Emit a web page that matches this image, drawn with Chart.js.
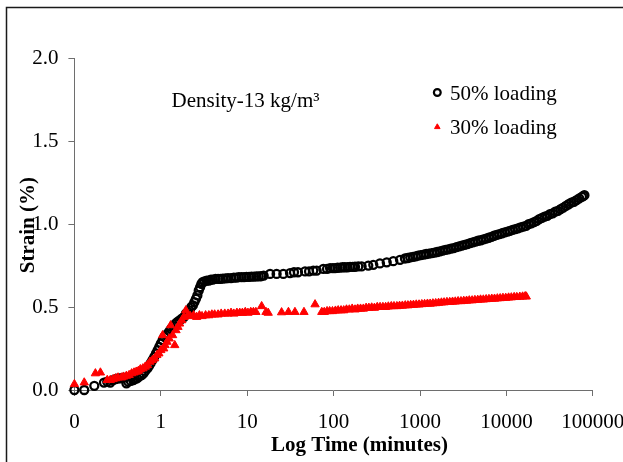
<!DOCTYPE html>
<html>
<head>
<meta charset="utf-8">
<script src="https://cdn.jsdelivr.net/npm/chart.js@4.4.1/dist/chart.umd.min.js"></script>
<style>
html,body{margin:0;padding:0;background:#fff;overflow:hidden;}
canvas{display:block;}
</style>
</head>
<body>
<canvas id="c" width="623" height="462"></canvas>
<script>
// ---- Data ----
const seriesNames = ['50% loading', '30% loading'];

// 50% loading (black open circles)
const timeA = [
  0.10, 0.13, 0.17, 0.22, 0.24, 0.26, 0.28, 0.30, 0.32, 0.34, 0.37, 0.40, 0.42, 0.45, 0.48, 0.50,
  0.53, 0.56, 0.60, 0.63, 0.66, 0.70, 0.73, 0.76, 0.80, 0.84, 0.88, 0.92, 0.96, 1.00, 1.05, 1.10,
  1.15, 1.20, 1.26, 1.32, 1.40, 1.48, 1.56, 1.65, 1.75, 1.85, 1.95, 2.05, 2.15, 2.25, 2.35, 2.45,
  2.55, 2.65, 2.75, 2.85, 2.95, 3.05, 3.2, 3.4, 3.6, 3.8, 4.0, 4.3, 4.6, 4.9, 5.2, 5.6, 6.0, 6.5,
  7.0, 7.5, 8.0, 8.6, 9.2, 9.8, 10.5, 11.2, 12.0, 12.8, 13.6, 14.5, 15.5,
  18.4, 21.9, 26.2, 31.3, 34.8, 38.7, 46.7, 52, 58.2, 63.7, 76, 84, 91, 98, 104, 111, 119, 127,
  135, 145, 155, 166, 177, 193, 211, 252, 288, 344, 412, 491, 587,
  670, 720, 770, 830, 890, 950, 1020, 1100, 1180, 1270, 1370, 1470, 1580, 1700, 1830, 1970, 2120,
  2280, 2450, 2640, 2840, 3050, 3280, 3530, 3800, 4080, 4380, 4700, 5050, 5420, 5820, 6250, 6710,
  7200, 7730, 8300, 8910, 9570, 10300, 11000, 11800, 12700, 13600, 14600, 15700, 16900, 18100,
  19400, 20900, 22400, 24000, 25800, 27700, 29700, 31900, 34300, 36800, 39500, 42400, 45500,
  48900, 52500, 56300, 60500, 64900, 69700, 74800, 78000, 80000
];
const strainA = [
  0.00, 0.00, 0.025, 0.045, 0.05, 0.045, 0.06, 0.065, 0.07, 0.07, 0.075, 0.04, 0.05, 0.055, 0.06, 0.065,
  0.07, 0.08, 0.09, 0.10, 0.115, 0.13, 0.145, 0.16, 0.18, 0.20, 0.22, 0.24, 0.26, 0.28, 0.30, 0.32,
  0.33, 0.34, 0.355, 0.37, 0.385, 0.40, 0.41, 0.42, 0.43, 0.44, 0.46, 0.47, 0.48, 0.50, 0.51, 0.53,
  0.55, 0.57, 0.60, 0.62, 0.64, 0.65, 0.655, 0.66, 0.66, 0.665, 0.665, 0.67, 0.67, 0.67, 0.672, 0.673,
  0.675, 0.675, 0.677, 0.678, 0.68, 0.68, 0.68, 0.682, 0.682, 0.683, 0.684, 0.685, 0.685, 0.686, 0.69,
  0.70, 0.70, 0.70, 0.705, 0.71, 0.71, 0.715, 0.715, 0.72, 0.72, 0.73, 0.73, 0.735, 0.735, 0.735, 0.737, 0.738, 0.74,
  0.74, 0.74, 0.742, 0.742, 0.743, 0.745, 0.745, 0.75, 0.755, 0.763, 0.77, 0.777, 0.785,
  0.793, 0.796, 0.80, 0.803, 0.806, 0.81, 0.813, 0.816, 0.82, 0.822, 0.825, 0.828, 0.832, 0.836, 0.84, 0.845, 0.848,
  0.852, 0.856, 0.862, 0.866, 0.87, 0.875, 0.88, 0.885, 0.89, 0.895, 0.90, 0.903, 0.908, 0.913, 0.918, 0.923,
  0.93, 0.935, 0.94, 0.945, 0.95, 0.955, 0.96, 0.965, 0.97, 0.975, 0.98, 0.985, 0.99, 1.00,
  1.005, 1.012, 1.02, 1.03, 1.038, 1.045, 1.05, 1.06, 1.065, 1.075, 1.08, 1.09, 1.10,
  1.11, 1.12, 1.13, 1.135, 1.145, 1.155, 1.165, 1.17, 1.175
];

// 30% loading (red filled triangles)
const timeB = [
  0.10, 0.13, 0.175, 0.20, 0.24, 0.26, 0.28, 0.30, 0.32, 0.35, 0.37, 0.40, 0.43, 0.46, 0.49, 0.52,
  0.55, 0.58, 0.62, 0.66, 0.70, 0.75, 0.80, 0.85, 0.90, 0.95, 1.00, 1.05, 1.08, 1.12, 1.18, 1.25,
  1.30, 1.37, 1.45, 1.50, 1.58, 1.65, 1.75, 1.85, 1.95, 2.05, 2.2, 2.4, 2.6, 2.8, 3.0, 3.3, 3.6,
  3.9, 4.2, 4.6, 5.0, 5.5, 6.0, 6.5, 7.0, 7.6, 8.2, 8.8, 9.5, 10.2, 11.0, 11.8, 12.6,
  14.7, 16.5, 17.5, 25, 30, 35.7, 45.4, 61,
  73, 78, 84, 90, 97, 105, 113, 122, 131, 141, 152, 164, 177, 190, 205, 221, 238, 256, 276, 297,
  320, 345, 372, 400, 430, 465, 500, 540, 580, 625, 675, 725, 780, 840, 905, 975, 1050, 1130,
  1220, 1310, 1410, 1520, 1640, 1770, 1900, 2050, 2210, 2380, 2560, 2760, 2980, 3210, 3460, 3720,
  4010, 4320, 4660, 5020, 5410, 5830, 6280, 6770, 7290, 7860, 8470, 9120, 9830, 10600, 11400,
  12300, 13200, 14300, 15400, 16500, 17000
];
const strainB = [
  0.035, 0.045, 0.10, 0.105, 0.06, 0.06, 0.065, 0.07, 0.075, 0.075, 0.08, 0.085, 0.09, 0.10, 0.105, 0.11,
  0.115, 0.125, 0.13, 0.14, 0.15, 0.17, 0.18, 0.19, 0.21, 0.22, 0.24, 0.33, 0.25, 0.27, 0.29, 0.31,
  0.39, 0.33, 0.27, 0.36, 0.38, 0.40, 0.42, 0.44, 0.48, 0.45, 0.445, 0.45, 0.44, 0.45, 0.445, 0.45, 0.45,
  0.455, 0.455, 0.455, 0.46, 0.46, 0.46, 0.465, 0.46, 0.465, 0.465, 0.465, 0.47, 0.465, 0.47, 0.47, 0.47,
  0.505, 0.47, 0.465, 0.468, 0.47, 0.47, 0.47, 0.516,
  0.47, 0.47, 0.475, 0.475, 0.475, 0.478, 0.48, 0.48, 0.48, 0.485, 0.485, 0.49, 0.485, 0.49, 0.49, 0.49, 0.495, 0.495, 0.497, 0.495,
  0.50, 0.50, 0.50, 0.50, 0.503, 0.505, 0.505, 0.505, 0.507, 0.508, 0.51, 0.51, 0.512, 0.513, 0.515, 0.515, 0.517, 0.518,
  0.52, 0.52, 0.522, 0.523, 0.525, 0.527, 0.528, 0.53, 0.53, 0.532, 0.533, 0.535, 0.535, 0.537, 0.538, 0.54,
  0.54, 0.542, 0.543, 0.545, 0.545, 0.547, 0.548, 0.55, 0.55, 0.552, 0.553, 0.555, 0.555, 0.557, 0.558,
  0.56, 0.56, 0.562, 0.563, 0.565, 0.563
];

// Axis ticks and labels
const xTickValues = [0.1, 1, 10, 100, 1000, 10000, 100000];
const xTickLabels = ['0', '1', '10', '100', '1000', '10000', '100000'];
const yTickValues = [0.0, 0.5, 1.0, 1.5, 2.0];
const xTitle = 'Log Time (minutes)';
const yTitle = 'Strain (%)';
const noteText = 'Density-13 kg/m³';

// ---- Chart ----
const SERIF = '"Liberation Serif", "Times New Roman", serif';
const toPoints = (xs, ys) => xs.map((x, i) => ({ x: x, y: ys[i] }));

const overlay = {
  id: 'overlay',
  afterDraw(chart) {
    const c = chart.ctx;
    const area = chart.chartArea;
    c.save();
    // outer frame
    c.strokeStyle = '#1a1a1a';
    c.lineWidth = 1.5;
    c.strokeRect(6.5, 7.5, 800, 600);
    // annotation
    c.fillStyle = '#000';
    c.textAlign = 'left';
    c.textBaseline = 'alphabetic';
    c.font = '21px ' + SERIF;
    c.fillText(noteText, 171.5, 106.5);
    // legend
    const ds0 = chart.data.datasets[0], ds1 = chart.data.datasets[1];
    c.strokeStyle = ds0.borderColor; c.fillStyle = 'rgba(0,0,0,0)'; c.lineWidth = 2.2;
    Chart.helpers.drawPoint(c, { pointStyle: 'circle', radius: 3.4, borderWidth: 2.2, rotation: 0 }, 437.3, 92.5);
    c.strokeStyle = ds1.borderColor; c.fillStyle = ds1.backgroundColor; c.lineWidth = 1;
    Chart.helpers.drawPoint(c, { pointStyle: 'triangle', radius: 3.2, borderWidth: 1, rotation: 0 }, 437.3, 127);
    c.fillStyle = '#000';
    c.font = '21px ' + SERIF;
    c.fillText(ds0.label, 450, 99.5);
    c.fillText(ds1.label, 450, 133.5);
    // axis titles
    c.font = 'bold 21px ' + SERIF;
    c.textAlign = 'center';
    c.fillText(xTitle, 359.5, 451);
    c.translate(34, (area.top + area.bottom) / 2 + 1);
    c.rotate(-Math.PI / 2);
    c.fillText(yTitle, 0, 0);
    c.restore();
  }
};

new Chart(document.getElementById('c').getContext('2d'), {
  type: 'scatter',
  data: {
    datasets: [
      {
        label: seriesNames[0],
        data: toPoints(timeA, strainA),
        pointStyle: 'circle',
        pointRadius: 4,
        pointBorderWidth: 2.3,
        borderColor: '#000000',
        backgroundColor: 'rgba(0,0,0,0)',
        showLine: false,
        clip: false,
        order: 1
      },
      {
        label: seriesNames[1],
        data: toPoints(timeB, strainB),
        pointStyle: 'triangle',
        pointRadius: 4.8,
        pointBorderWidth: 1,
        borderColor: '#ff0000',
        backgroundColor: '#ff0000',
        showLine: false,
        clip: false,
        order: 0
      }
    ]
  },
  options: {
    responsive: false,
    animation: false,
    devicePixelRatio: 1,
    layout: { padding: { left: 0, right: 30.2, top: 58.3, bottom: 0 } },
    plugins: { legend: { display: false }, tooltip: { enabled: false }, title: { display: false } },
    scales: {
      x: {
        type: 'logarithmic',
        min: 0.1,
        max: 100000,
        afterBuildTicks: s => { s.ticks = xTickValues.map(v => ({ value: v, major: true })); },
        afterFit: s => { s.height = 72; s.paddingLeft = 0; s.paddingRight = 0; },
        ticks: {
          autoSkip: false, maxRotation: 0, minRotation: 0,
          callback: (v, i) => xTickLabels[i],
          font: { family: SERIF, size: 21 },
          color: '#000',
          padding: 14
        },
        grid: { drawOnChartArea: false, drawTicks: true, tickLength: 6, color: '#6e6e6e', lineWidth: 1 },
        border: { display: true, color: '#6e6e6e', width: 1 }
      },
      y: {
        type: 'linear',
        min: 0,
        max: 2,
        afterBuildTicks: s => { s.ticks = yTickValues.map(v => ({ value: v })); },
        afterFit: s => { s.width = 74.4; s.paddingTop = 0; s.paddingBottom = 0; },
        ticks: {
          callback: v => Number(v).toFixed(1),
          font: { family: SERIF, size: 21 },
          color: '#000',
          padding: 10
        },
        grid: { drawOnChartArea: false, drawTicks: true, tickLength: 6, color: '#6e6e6e', lineWidth: 1 },
        border: { display: true, color: '#6e6e6e', width: 1 }
      }
    }
  },
  plugins: [overlay]
});
</script>
</body>
</html>
